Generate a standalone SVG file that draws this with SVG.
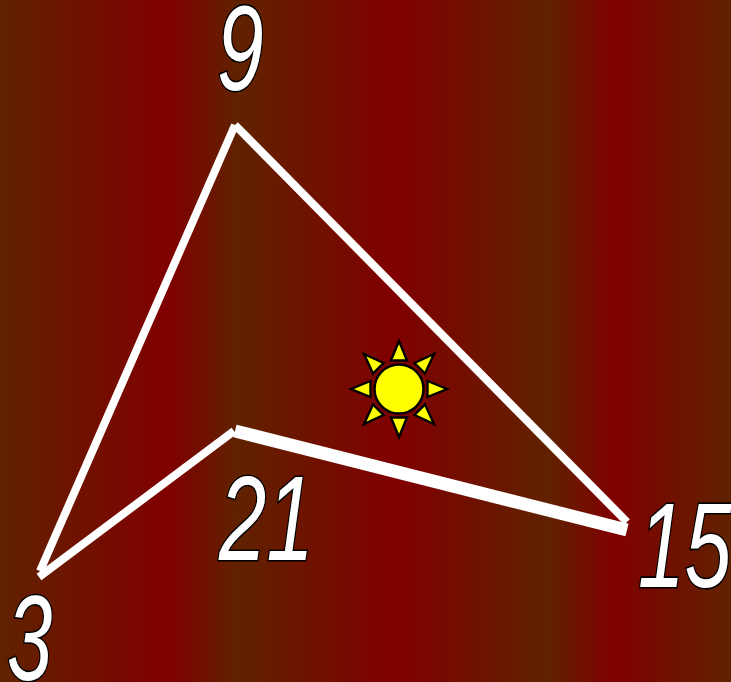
<svg xmlns="http://www.w3.org/2000/svg" width="731" height="682" viewBox="0 0 731 682">
<style>
.lbl{font-family:"Liberation Sans",Arial,sans-serif;font-style:italic;font-size:120px;fill:#fff;stroke:#000;stroke-width:3.2px;paint-order:stroke}
.e{fill:none;stroke:#fff;stroke-linecap:butt}
.ray{fill:#ff0;stroke:#000;stroke-width:2.4;stroke-linejoin:miter}
</style>
<defs>
<linearGradient id="bg" gradientUnits="userSpaceOnUse" x1="0" y1="0" x2="731" y2="0">
<stop offset="0" stop-color="#602200"/>
<stop offset="0.23" stop-color="#800000"/>
<stop offset="0.325" stop-color="#602200"/>
<stop offset="0.54" stop-color="#800000"/>
<stop offset="0.75" stop-color="#602200"/>
<stop offset="0.84" stop-color="#800000"/>
<stop offset="1" stop-color="#602200"/>
</linearGradient>
</defs>
<rect id="background" width="731" height="682" fill="url(#bg)"/>
<g id="connectors">
<path class="e" stroke-width="8" d="M235 125L40 571"/>
<path class="e" stroke-width="8" d="M235 125L627 522"/>
<path class="e" stroke-width="8" d="M39 577L234 431"/>
<path class="e" stroke-width="13" d="M235 431L627 530"/>
</g>
<g id="sun">
<circle cx="399" cy="389" r="24.5" fill="#ff0" stroke="#000" stroke-width="2.5"/>
<path class="ray" d="M399 341L391 360.500L407 360.500Z"/>
<path class="ray" d="M399 437L391 417.500L407 417.500Z"/>
<path class="ray" d="M351 389L370.500 381L370.500 397Z"/>
<path class="ray" d="M447 389L427.500 381L427.500 397Z"/>
<path class="ray" d="M364 354L383.500 363L373 373.500Z"/>
<path class="ray" d="M434 354L414.500 363L425 373.500Z"/>
<path class="ray" d="M364 424L373 404.500L383.500 415Z"/>
<path class="ray" d="M434 424L425 404.500L414.500 415Z"/>
</g>
<g id="node-9"><text class="lbl" transform="translate(217 90) scale(.7 1)">9</text></g>
<g id="node-21"><text class="lbl" transform="translate(219 560) scale(.71 1)">21</text></g>
<g id="node-15"><text class="lbl" transform="translate(638 587) scale(.7 1)">15</text></g>
<g id="node-3"><text class="lbl" transform="translate(7 680) scale(.68 1)">3</text></g>
</svg>
